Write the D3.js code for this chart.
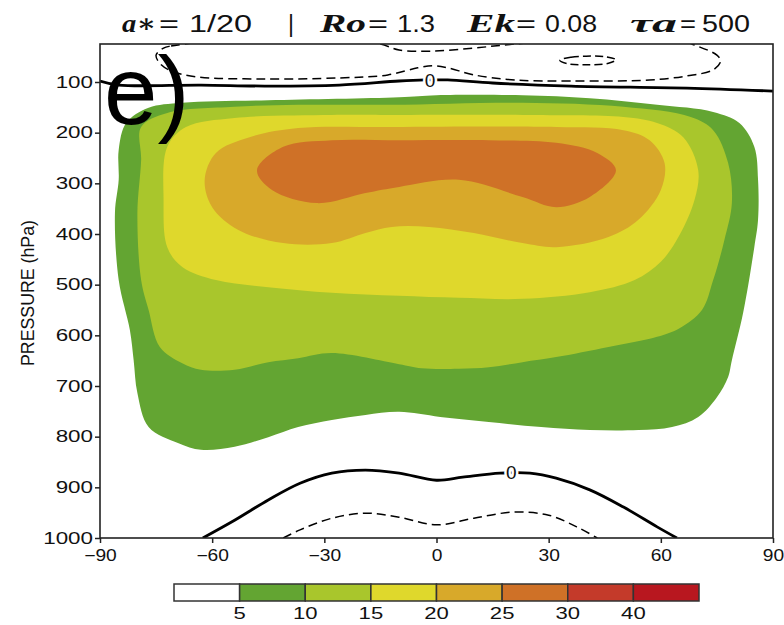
<!DOCTYPE html>
<html>
<head>
<meta charset="utf-8">
<script src="https://cdn.jsdelivr.net/npm/d3@7"></script>
<style>
body { margin: 0; background: #fff; }
text { font-family: 'Liberation Sans', Arial, sans-serif; fill: #111; }
</style>
</head>
<body>
<script>
// shaded regions, outline of each level as [latitude, pressure]
var level5 = [[0,126],[23,126],[41,132],[59,145],[74,159],[81,181],[85,228],[86,293],[86,372],[85,426],[82,556],[79,649],[78,682],[75,722],[70,761],[63,781],[54,787],[41,787],[28,781],[14,771],[1,761],[-10,751],[-19,757],[-28,767],[-37,781],[-45,801],[-54,820],[-63,826],[-69,813],[-77,781],[-80,714],[-81,649],[-82,590],[-85,491],[-86,358],[-85,293],[-85,234],[-83,181],[-77,151],[-68,141],[-45,136],[-10,130]];
var level10 = [[-12,145],[23,141],[50,149],[68,169],[74,195],[78,260],[79,339],[77,412],[74,491],[71,550],[65,586],[59,603],[46,623],[32,643],[23,653],[14,663],[6,666],[-4,665],[-10,657],[-28,635],[-37,645],[-45,653],[-54,668],[-63,668],[-68,655],[-74,623],[-77,550],[-79,491],[-80,359],[-79,254],[-79,189],[-72,161],[-54,149],[-37,145]];
var level15 = [[-12,165],[23,165],[50,169],[59,181],[66,209],[70,274],[69,333],[65,402],[60,455],[53,491],[41,515],[23,528],[6,526],[-10,522],[-28,516],[-45,505],[-59,491],[-68,465],[-72,426],[-73,333],[-72,228],[-67,189],[-54,171],[-28,165]];
var level20 = [[-12,189],[32,189],[50,195],[57,215],[61,260],[60,313],[54,372],[46,406],[32,426],[23,418],[10,398],[-2,386],[-12,386],[-19,398],[-28,418],[-41,418],[-53,392],[-60,347],[-62,293],[-59,240],[-50,209],[-37,191]];
var level25 = [[-48,274],[-41,228],[-28,215],[-10,215],[14,215],[32,220],[43,240],[48,274],[41,327],[32,347],[23,327],[6,293],[-10,307],[-19,319],[-32,339],[-44,313]];

// contour lines
var zeroTop = [[-90,98],[-85,106],[-63,106],[-46,108],[-26,106],[-10,98],[-3,96],[3,96],[15,102],[36,108],[67,112],[90,118]];
var negTop = [[-73,33],[-71,29],[-50,13],[-26,17],[-15,25],[-10,37],[-1,39],[10,33],[21,25],[44,13],[65,17],[69,27],[75,47],[76,59],[74,76],[67,88],[57,96],[36,98],[21,96],[10,86],[3,72],[-1,68],[-5,72],[-13,86],[-26,92],[-46,94],[-64,90],[-71,78],[-74,63],[-75,47]];
var negSmall = [[33,57],[36,51],[40,49],[45,50],[48,56],[46,63],[40,66],[35,64]];
var zeroBottom = [[-62.5,1000],[-54,965],[-45,925],[-36.5,892],[-28,872],[-19,866],[-10,872],[0,886],[7,880],[17,872],[25,872],[32,882],[41,905],[50,939],[59,978],[64.3,1000]];
var negBottom = [[-41,1000],[-36.5,984],[-28,961],[-19,951],[-10,959],[0,974],[10,961],[20.5,949],[30,955],[37.5,978],[43,1000]];
var zeroLabels = [[-1.7,97],[20,871]];

var levels = [5, 10, 15, 20, 25, 30, 40];
var colors = ['#ffffff', '#63a532', '#a9c62c', '#dfd82c', '#d8a92a', '#cf7127', '#c43a2a', '#b8171f'];
var latTicks = [-90, -60, -30, 0, 30, 60, 90];
var pTicks = [100, 200, 300, 400, 500, 600, 700, 800, 900, 1000];

var titleParts = ['a\u2217', '=', '1/20', '|', 'Ro', '=', '1.3', 'Ek', '=', '0.08', '\u03c4a', '=', '500'];
var titleItalic = [1, 0, 0, 0, 1, 0, 0, 1, 0, 0, 1, 0, 0];

// layout
var width = 784, height = 625;
var plot = { left: 100, right: 773, top: 44, bottom: 538 };
var titleX = [122, 159, 189, 288, 320, 368, 397, 467, 516, 545, 630, 680, 702];
var titleW = [34, 20, 63, 0, 46, 20, 38, 48, 20, 52, 47, 16, 48];
var sx = 1.4; // labels in the figure are stretched sideways

var x = d3.scaleLinear().domain([-90, 90]).range([plot.left, plot.right]);
var y = d3.scaleLinear().domain([25, 1000]).range([plot.top, plot.bottom]);

var svg = d3.select('body').append('svg')
	.attr('width', width)
	.attr('height', height);

svg.append('clipPath').attr('id', 'clip')
	.append('rect')
		.attr('x', plot.left).attr('y', plot.top)
		.attr('width', plot.right - plot.left)
		.attr('height', plot.bottom - plot.top);

var area = svg.append('g').attr('clip-path', 'url(#clip)');

var ring = d3.line()
	.x(function(d) { return x(d[0]); })
	.y(function(d) { return y(d[1]); })
	.curve(d3.curveCatmullRomClosed.alpha(0.5));
var trace = d3.line()
	.x(function(d) { return x(d[0]); })
	.y(function(d) { return y(d[1]); })
	.curve(d3.curveCatmullRom.alpha(0.5));

// filled levels
var shaded = [level5, level10, level15, level20, level25];
area.selectAll('.band')
	.data(shaded)
	.enter().append('path')
		.attr('class', 'band')
		.attr('d', ring)
		.attr('fill', function(d, i) { return colors[i + 1]; });

// contour lines
area.append('path').attr('d', trace(zeroTop))
	.attr('fill', 'none').attr('stroke', '#000').attr('stroke-width', 2.8);
area.append('path').attr('d', trace(zeroBottom))
	.attr('fill', 'none').attr('stroke', '#000').attr('stroke-width', 2.8);
area.append('path').attr('d', ring(negTop))
	.attr('fill', 'none').attr('stroke', '#000').attr('stroke-width', 1.5)
	.attr('stroke-dasharray', '9,5');
area.append('path').attr('d', ring(negSmall))
	.attr('fill', 'none').attr('stroke', '#000').attr('stroke-width', 1.5)
	.attr('stroke-dasharray', '8,4');
area.append('path').attr('d', trace(negBottom))
	.attr('fill', 'none').attr('stroke', '#000').attr('stroke-width', 1.5)
	.attr('stroke-dasharray', '9,5');

area.selectAll('.clab')
	.data(zeroLabels)
	.enter().append('text')
		.attr('class', 'clab')
		.attr('x', function(d) { return x(d[0]); })
		.attr('y', function(d) { return y(d[1]); })
		.attr('dy', '0.36em')
		.attr('text-anchor', 'middle')
		.style('font-size', '19px')
		.style('paint-order', 'stroke')
		.attr('stroke', '#fff')
		.attr('stroke-width', 5)
		.text('0');

// axes
var xAxis = d3.axisBottom(x).tickValues(latTicks).tickSize(5).tickSizeOuter(0).tickPadding(7);
var yAxis = d3.axisLeft(y).tickValues(pTicks).tickSize(5).tickSizeOuter(0).tickFormat(d3.format('d'));

var gx = svg.append('g')
	.attr('transform', 'translate(0,' + plot.bottom + ')')
	.call(xAxis);
gx.selectAll('text')
	.style('font-size', '16px')
	.attr('transform', 'scale(1.2,1)');

var gy = svg.append('g')
	.attr('transform', 'translate(' + plot.left + ',0)')
	.call(yAxis);
gy.selectAll('text')
	.style('font-size', '16px')
	.attr('x', -7 / sx)
	.attr('transform', 'scale(' + sx + ',1)');

svg.selectAll('.domain').remove();
svg.selectAll('.tick line').attr('stroke', '#222').attr('stroke-width', 1.5);

svg.append('rect')
	.attr('x', plot.left).attr('y', plot.top)
	.attr('width', plot.right - plot.left)
	.attr('height', plot.bottom - plot.top)
	.attr('fill', 'none')
	.attr('stroke', '#222')
	.attr('stroke-width', 1.6);

svg.append('text')
	.attr('transform', 'translate(34,293) rotate(-90)')
	.attr('text-anchor', 'middle')
	.attr('textLength', 146)
	.attr('lengthAdjust', 'spacingAndGlyphs')
	.style('font-size', '18px')
	.text('PRESSURE (hPa)');

// title
svg.selectAll('.title')
	.data(titleParts)
	.enter().append('text')
		.attr('class', 'title')
		.attr('x', function(d, i) { return titleX[i]; })
		.attr('y', 32)
		.attr('textLength', function(d, i) { return titleW[i] || null; })
		.attr('lengthAdjust', 'spacingAndGlyphs')
		.style('font-family', function(d, i) { return titleItalic[i] ? "'Liberation Serif', 'DejaVu Serif', serif" : null; })
		.style('font-style', function(d, i) { return titleItalic[i] ? 'italic' : 'normal'; })
		.style('font-weight', function(d, i) { return titleItalic[i] ? 'bold' : 'normal'; })
		.style('font-size', function(d, i) { return titleItalic[i] ? '25px' : '23px'; })
		.text(function(d) { return d; });

// panel letter
svg.append('text')
	.attr('x', 104)
	.attr('y', 124)
	.style('font-size', '96px')
	.style('fill', '#000')
	.text('e)');

// colour bar
var cb = d3.scaleLinear().domain([0, colors.length]).range([174, 699]);
svg.selectAll('.cbox')
	.data(colors)
	.enter().append('rect')
		.attr('class', 'cbox')
		.attr('x', function(d, i) { return cb(i); })
		.attr('y', 584)
		.attr('width', function(d, i) { return cb(i + 1) - cb(i); })
		.attr('height', 17)
		.attr('fill', function(d) { return d; })
		.attr('stroke', '#333')
		.attr('stroke-width', 1.5);

svg.selectAll('.clabel')
	.data(levels)
	.enter().append('text')
		.attr('class', 'clabel')
		.attr('transform', function(d, i) { return 'translate(' + cb(i + 1) + ',619) scale(1.3,1)'; })
		.attr('text-anchor', 'middle')
		.style('font-size', '17px')
		.text(function(d) { return d; });
</script>
</body>
</html>
